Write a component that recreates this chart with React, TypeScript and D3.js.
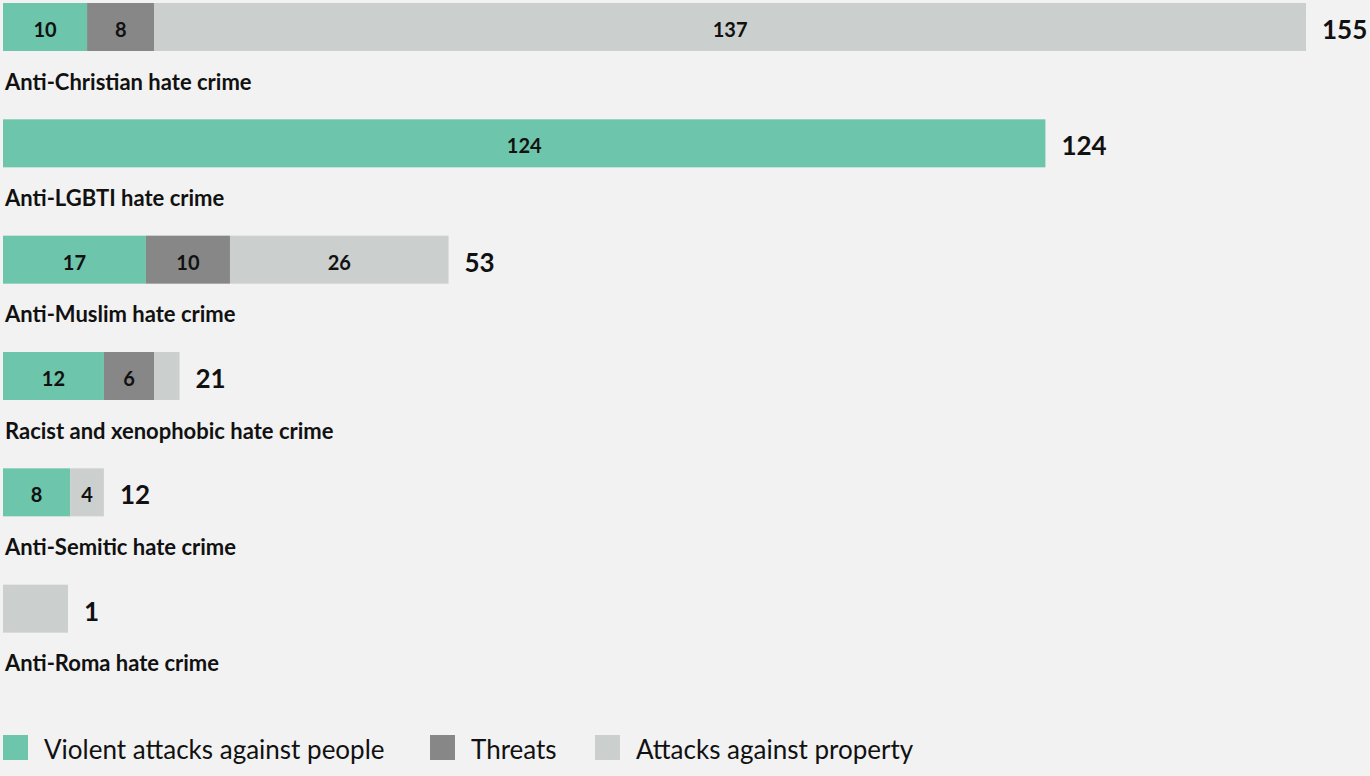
import React, { useEffect } from "react";
import * as d3 from "d3";

const categories = [
  "Anti-Christian hate crime",
  "Anti-LGBTI hate crime",
  "Anti-Muslim hate crime",
  "Racist and xenophobic hate crime",
  "Anti-Semitic hate crime",
  "Anti-Roma hate crime",
];
const violent = [10, 124, 17, 12, 8, 0];
const threats = [8, 0, 10, 6, 0, 0];
const property = [137, 0, 26, 3, 4, 1];
const seriesNames = ["Violent attacks against people", "Threats", "Attacks against property"];
const colors = ["#6dc5ab", "#878787", "#cbcfce"];

const W = 1370;
const H = 776;
const FONT = "Lato, 'Noto Sans', sans-serif";

export default function App() {
  useEffect(() => {
    document.body.style.margin = "0";
    document.body.style.background = "#f2f2f2";
  }, []);

  const rows = categories.map((c, i) => ({
    name: c,
    vals: [violent[i], threats[i], property[i]],
    total: violent[i] + threats[i] + property[i],
  }));
  const maxTotal = d3.max(rows, (r) => r.total) as number;
  const x = d3.scaleLinear().domain([0, maxTotal]).range([3, 1306]);
  const y = d3.scaleBand().domain(categories).range([3, 701]).paddingInner(0).paddingOuter(0);
  const barH = 48;
  const minW = 65;

  return (
    <svg width={W} height={H} style={{ display: "block", background: "#f2f2f2" }} fontFamily={FONT}>
      <rect x={0} y={0} width={W} height={H} fill="#f2f2f2" />
      {rows.map((r) => {
        const y0 = y(r.name) as number;
        let acc = 0;
        const segs = r.vals.map((v, k) => {
          const s = { k, v, x0: x(acc), x1: x(acc + v) };
          acc += v;
          return s;
        });
        let end = x(r.total);
        if (end - x(0) < minW) {
          const last = segs.filter((s) => s.v > 0);
          if (last.length) last[last.length - 1].x1 = x(0) + minW;
          end = x(0) + minW;
        }
        return (
          <g key={r.name}>
            {segs
              .filter((s) => s.v > 0)
              .map((s) => (
                <g key={s.k}>
                  <rect x={s.x0} y={y0} width={s.x1 - s.x0} height={barH} fill={colors[s.k]} />
                  {s.x1 - s.x0 >= 30 && r.total > 1 && (
                    <text
                      x={(s.x0 + s.x1) / 2}
                      y={y0 + barH / 2 + 3}
                      dy="0.35em"
                      textAnchor="middle"
                      fontSize={20}
                      fontWeight={700}
                      fill="#111"
                    >
                      {s.v}
                    </text>
                  )}
                </g>
              ))}
            <text x={end + 16} y={y0 + barH / 2 + 3} dy="0.35em" fontSize={26} fontWeight={700} fill="#111">
              {r.total}
            </text>
            <text x={5} y={y0 + 79} dy="0.35em" fontSize={22} fontWeight={700} fill="#111">
              {r.name}
            </text>
          </g>
        );
      })}
      {seriesNames.map((n, k) => {
        const lx = [3, 430, 595][k];
        return (
          <g key={n}>
            <rect x={lx} y={735} width={25} height={25} fill={colors[k]} />
            <text x={lx + 41} y={750} dy="0.35em" fontSize={26} fill="#111">
              {n}
            </text>
          </g>
        );
      })}
    </svg>
  );
}
